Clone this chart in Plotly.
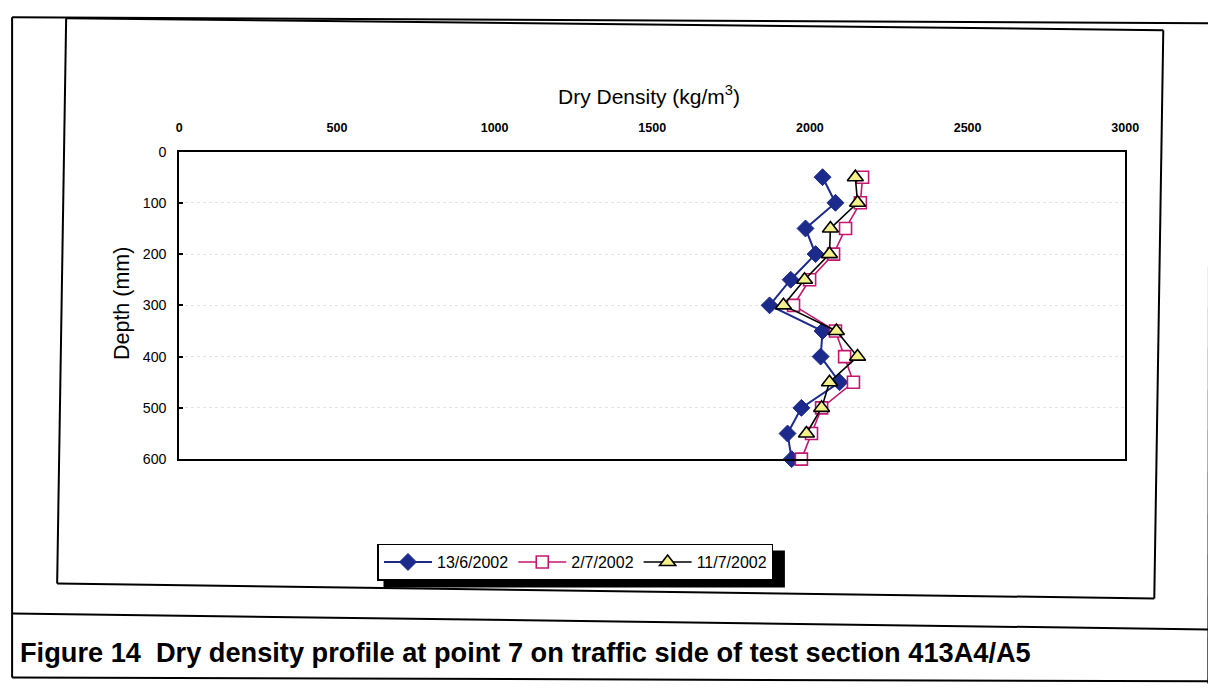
import plotly.graph_objects as go

W, H = 1216, 690
# empirical mapping between figure pixels and the photographed picture
SX, OX = 0.985, 10.9
SY, OY = 0.978, 13.8

depth = [50, 100, 150, 200, 250, 300, 350, 400, 450, 500, 550, 600]
dens_1306 = [2040, 2081, 1986, 2018, 1939, 1872, 2040, 2034, 2094, 1973, 1929, 1942]
dens_0207 = [2167, 2160, 2113, 2075, 1999, 1948, 2081, 2110, 2138, 2037, 2005, 1973]
depth_1107 = [50, 100, 150, 200, 250, 300, 350, 400, 450, 500, 550]
dens_1107 = [2144, 2151, 2065, 2062, 1983, 1916, 2084, 2151, 2062, 2037, 1989]

x_ticks = [0, 500, 1000, 1500, 2000, 2500, 3000]
y_ticks = [0, 100, 200, 300, 400, 500, 600]

names = ["13/6/2002", "2/7/2002", "11/7/2002"]

fig = go.Figure()
fig.add_trace(go.Scatter(
    x=dens_1306, y=depth, name=names[0], mode="lines+markers", cliponaxis=False,
    line=dict(color="#1c2a8c", width=2),
    marker=dict(symbol="diamond", size=13, color="#1c2a8c",
                line=dict(color="#1c2a8c", width=1))))
fig.add_trace(go.Scatter(
    x=dens_0207, y=depth, name=names[1], mode="lines+markers", cliponaxis=False,
    line=dict(color="#c2176e", width=1.6),
    marker=dict(symbol="square", size=12, color="white",
                line=dict(color="#c2176e", width=1.6))))
fig.add_trace(go.Scatter(
    x=dens_1107, y=depth_1107, name=names[2], mode="lines+markers", cliponaxis=False,
    line=dict(color="black", width=1.6),
    marker=dict(symbol="triangle-up", size=14, color="#f4f08a",
                line=dict(color="black", width=1.6))))


def px(x):
    return ((x - OX) / SX) / W


def py(y):
    return 1 - ((y - OY) / SY) / H


fig.update_layout(
    width=W, height=H,
    margin=dict(l=0, r=0, t=0, b=0),
    paper_bgcolor="white", plot_bgcolor="white",
    font=dict(family="Arial, Liberation Sans, sans-serif", color="black"),
    showlegend=True,
    legend=dict(orientation="h", x=px(377), y=py(542), xanchor="left", yanchor="top",
                bgcolor="white", bordercolor="black", borderwidth=1.5,
                font=dict(size=16, color="black"), itemwidth=48,
                tracegroupgap=0),
    xaxis=dict(domain=[px(179), px(1124)], range=[0, 3000], side="top",
               tickvals=x_ticks, ticktext=["<b>%d</b>" % v for v in x_ticks],
               ticks="", showgrid=False, zeroline=False,
               showline=True, linecolor="black", linewidth=2, mirror=True,
               tickfont=dict(size=12.5, color="black"),
               ticklabelstandoff=13),
    yaxis=dict(domain=[py(457.5), py(149.5)], range=[600, 0], tickvals=y_ticks,
               ticks="inside", ticklen=4, tickwidth=1.5, tickcolor="black",
               showgrid=True, gridcolor="#e4e4e4", griddash="dot", gridwidth=1,
               zeroline=False, showline=True, linecolor="black", linewidth=2, mirror=True,
               tickfont=dict(size=14.2, color="black"), ticklabelstandoff=8),
)

fig.add_annotation(text="Dry Density (kg/m<sup>3</sup>)", xref="paper", yref="paper",
                   x=px(648), y=py(93), xanchor="center", yanchor="middle",
                   showarrow=False, font=dict(size=21, color="black"))
fig.add_annotation(text="Depth (mm)", xref="paper", yref="paper", textangle=-90,
                   x=px(122), y=py(302), xanchor="center", yanchor="middle",
                   showarrow=False, font=dict(size=21.5, color="black"))

shapes = []


def seg(x0, y0, x1, y1, w=2):
    shapes.append(dict(type="line", xref="paper", yref="paper",
                       x0=px(x0), y0=py(y0), x1=px(x1), y1=py(y1),
                       line=dict(color="black", width=w)))


# outer page box
seg(12, 15, 1216, 21)
seg(12, 15, 12, 676)
seg(1208, 21, 1207, 682)
seg(12, 676, 1216, 680)
# caption separator
seg(12, 612, 1208, 628)
# inner chart box
seg(66, 16, 1162, 28)
seg(66, 16, 57, 582)
seg(1162, 28, 1153, 597)
seg(57, 582, 1153, 597)

# legend drop shadow (black block behind the legend, offset down-right)
shapes.append(dict(type="rect", xref="paper", yref="paper",
                   x0=px(383), y0=py(586), x1=px(784), y1=py(549),
                   fillcolor="black", line=dict(width=0)))
fig.update_layout(shapes=shapes)

fig.add_annotation(text="<b>Figure 14  Dry density profile at point 7 on traffic side of test section 413A4/A5</b>",
                   xref="paper", yref="paper", x=px(18), y=py(651), xanchor="left", yanchor="middle",
                   showarrow=False, font=dict(size=27.2, color="black"))

fig.write_html("out.html")
